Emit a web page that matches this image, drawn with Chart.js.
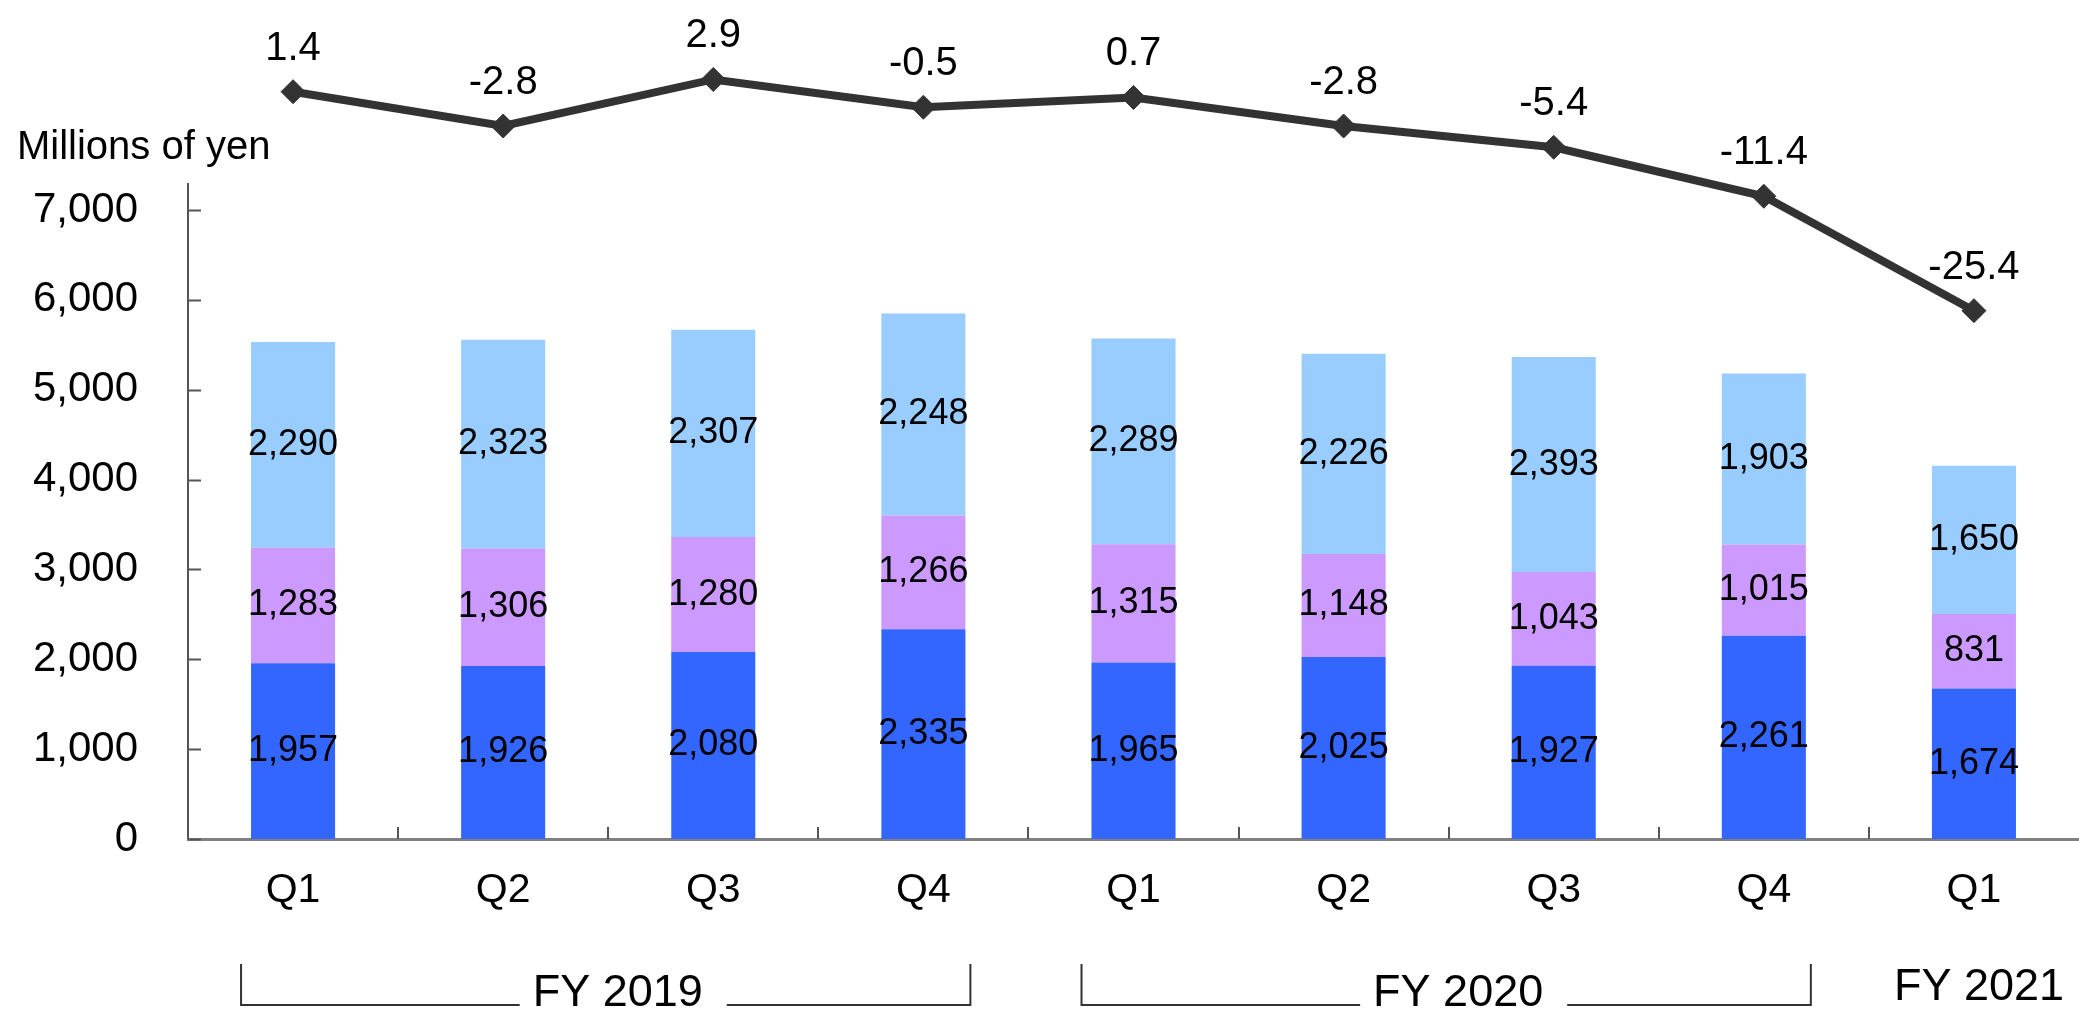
<!DOCTYPE html>
<html lang="en">
<head>
  <meta charset="UTF-8" />
  <title>Quarterly sales</title>
  <script src="https://cdn.jsdelivr.net/npm/chart.js"></script>
  <style>
    html, body { margin: 0; padding: 0; background: #fff; }
    .chart-wrap { width: 2079px; height: 1017px; position: relative; }
  </style>
</head>
<body>
  <div class="chart-wrap">
    <canvas id="salesChart"></canvas>
  </div>

  <script>
    // data
    const quarters = ['Q1', 'Q2', 'Q3', 'Q4', 'Q1', 'Q2', 'Q3', 'Q4', 'Q1'];
    const seriesBottom = [1957, 1926, 2080, 2335, 1965, 2025, 1927, 2261, 1674];
    const seriesMiddle = [1283, 1306, 1280, 1266, 1315, 1148, 1043, 1015, 831];
    const seriesTop = [2290, 2323, 2307, 2248, 2289, 2226, 2393, 1903, 1650];
    const growthRate = [1.4, -2.8, 2.9, -0.5, 0.7, -2.8, -5.4, -11.4, -25.4];
    const yTicks = [0, 1000, 2000, 3000, 4000, 5000, 6000, 7000];
    const fiscalYears = [
      { label: 'FY 2019', from: 0, to: 3, bracket: true },
      { label: 'FY 2020', from: 4, to: 7, bracket: true },
      { label: 'FY 2021', from: 8, to: 8, bracket: false }
    ];

    const FONT = '"Liberation Sans", Arial, sans-serif';
    const fmt = v => v.toLocaleString('en-US');
    const AXIS_TOP = 7300; // where the value axis line stops

    // axis line, labels, inside tick marks and fiscal year brackets
    const extras = {
      id: 'extras',
      afterDraw(chart) {
        const ctx = chart.ctx;
        const xs = chart.scales.x;
        const ys = chart.scales.y;
        const area = chart.chartArea;
        ctx.save();

        // unit title
        ctx.fillStyle = '#000';
        ctx.font = '40px ' + FONT;
        ctx.textAlign = 'left';
        ctx.textBaseline = 'middle';
        ctx.fillText('Millions of yen', 17, 148);

        // value axis line, only up to AXIS_TOP
        ctx.strokeStyle = '#555';
        ctx.lineWidth = 2;
        ctx.beginPath();
        ctx.moveTo(area.left, ys.getPixelForValue(AXIS_TOP));
        ctx.lineTo(area.left, area.bottom);
        ctx.stroke();

        // tick marks pointing into the plot
        ctx.beginPath();
        yTicks.forEach(v => {
          const y = Math.round(ys.getPixelForValue(v)) + 0.5;
          ctx.moveTo(area.left, y);
          ctx.lineTo(area.left + 13, y);
        });
        for (let i = 1; i < quarters.length; i++) {
          const x = Math.round((xs.getPixelForValue(i - 1) + xs.getPixelForValue(i)) / 2);
          ctx.moveTo(x, area.bottom);
          ctx.lineTo(x, area.bottom - 12);
        }
        ctx.stroke();

        // values inside the bars
        ctx.fillStyle = '#000';
        ctx.font = '36px ' + FONT;
        ctx.textAlign = 'center';
        ctx.textBaseline = 'middle';
        chart.data.datasets.forEach((ds, di) => {
          if (ds.type === 'line') return;
          chart.getDatasetMeta(di).data.forEach((bar, i) => {
            ctx.fillText(fmt(ds.data[i]), bar.x, (bar.y + bar.base) / 2);
          });
        });

        // growth labels above the points
        ctx.font = '40px ' + FONT;
        chart.data.datasets.forEach((ds, di) => {
          if (ds.type !== 'line') return;
          chart.getDatasetMeta(di).data.forEach((pt, i) => {
            ctx.fillText(ds.data[i].toFixed(1), pt.x, pt.y - 43);
          });
        });

        // fiscal year groups
        ctx.font = '45px ' + FONT;
        ctx.strokeStyle = '#333';
        ctx.lineWidth = 2;
        fiscalYears.forEach(fy => {
          const x1 = xs.getPixelForValue(fy.from) - 52;
          const x2 = xs.getPixelForValue(fy.to) + 47;
          const tx = (x1 + x2) / 2 + 12;
          if (fy.bracket) {
            const w = ctx.measureText(fy.label).width;
            ctx.beginPath();
            ctx.moveTo(x1, 964);
            ctx.lineTo(x1, 1005);
            ctx.lineTo(tx - w / 2 - 13, 1005);
            ctx.moveTo(tx + w / 2 + 24, 1005);
            ctx.lineTo(x2, 1005);
            ctx.lineTo(x2, 964);
            ctx.stroke();
            ctx.fillText(fy.label, tx, 994);
          } else {
            ctx.fillText(fy.label, xs.getPixelForValue(fy.from) + 5, 988);
          }
        });

        ctx.restore();
      }
    };

    const ctx = document.getElementById('salesChart').getContext('2d');
    new Chart(ctx, {
      data: {
        labels: quarters,
        datasets: [
          {
            type: 'line',
            label: 'YoY change (%)',
            data: growthRate,
            yAxisID: 'y2',
            borderColor: '#333333',
            backgroundColor: '#333333',
            borderWidth: 8,
            pointStyle: 'rectRot',
            pointRadius: 12,
            pointBorderWidth: 1,
            tension: 0,
            clip: false
          },
          {
            type: 'bar',
            label: 'Bottom',
            data: seriesBottom,
            backgroundColor: '#3366FF',
            barPercentage: 0.4,
            categoryPercentage: 1
          },
          {
            type: 'bar',
            label: 'Middle',
            data: seriesMiddle,
            backgroundColor: '#CC99FF',
            barPercentage: 0.4,
            categoryPercentage: 1
          },
          {
            type: 'bar',
            label: 'Top',
            data: seriesTop,
            backgroundColor: '#99CCFF',
            barPercentage: 0.4,
            categoryPercentage: 1
          }
        ]
      },
      options: {
        responsive: true,
        maintainAspectRatio: false,
        animation: false,
        // plot area runs near the top so the line markers are inside it
        layout: { autoPadding: false, padding: { top: 30, right: 0, bottom: 0, left: 0 } },
        plugins: {
          legend: { display: false },
          tooltip: { enabled: false }
        },
        scales: {
          x: {
            stacked: true,
            offset: true,
            grid: { display: false, drawTicks: false },
            border: { display: true, color: '#808080', width: 3 },
            ticks: {
              color: '#000',
              padding: 27,
              maxRotation: 0,
              font: { family: FONT, size: 41 }
            },
            afterFit(scale) { scale.height = 178; }
          },
          y: {
            stacked: true,
            min: 0,
            max: 8500,
            grid: { display: false, drawTicks: false },
            border: { display: false },
            ticks: {
              color: '#000',
              padding: 50,
              font: { family: FONT, size: 42 },
              callback: v => fmt(v)
            },
            afterBuildTicks(scale) { scale.ticks = yTicks.map(v => ({ value: v })); },
            afterFit(scale) { scale.width = 188; }
          },
          y2: {
            display: false,
            stacked: false,
            min: -90.07,
            max: 3.42
          }
        }
      },
      plugins: [extras]
    });
  </script>
</body>
</html>
